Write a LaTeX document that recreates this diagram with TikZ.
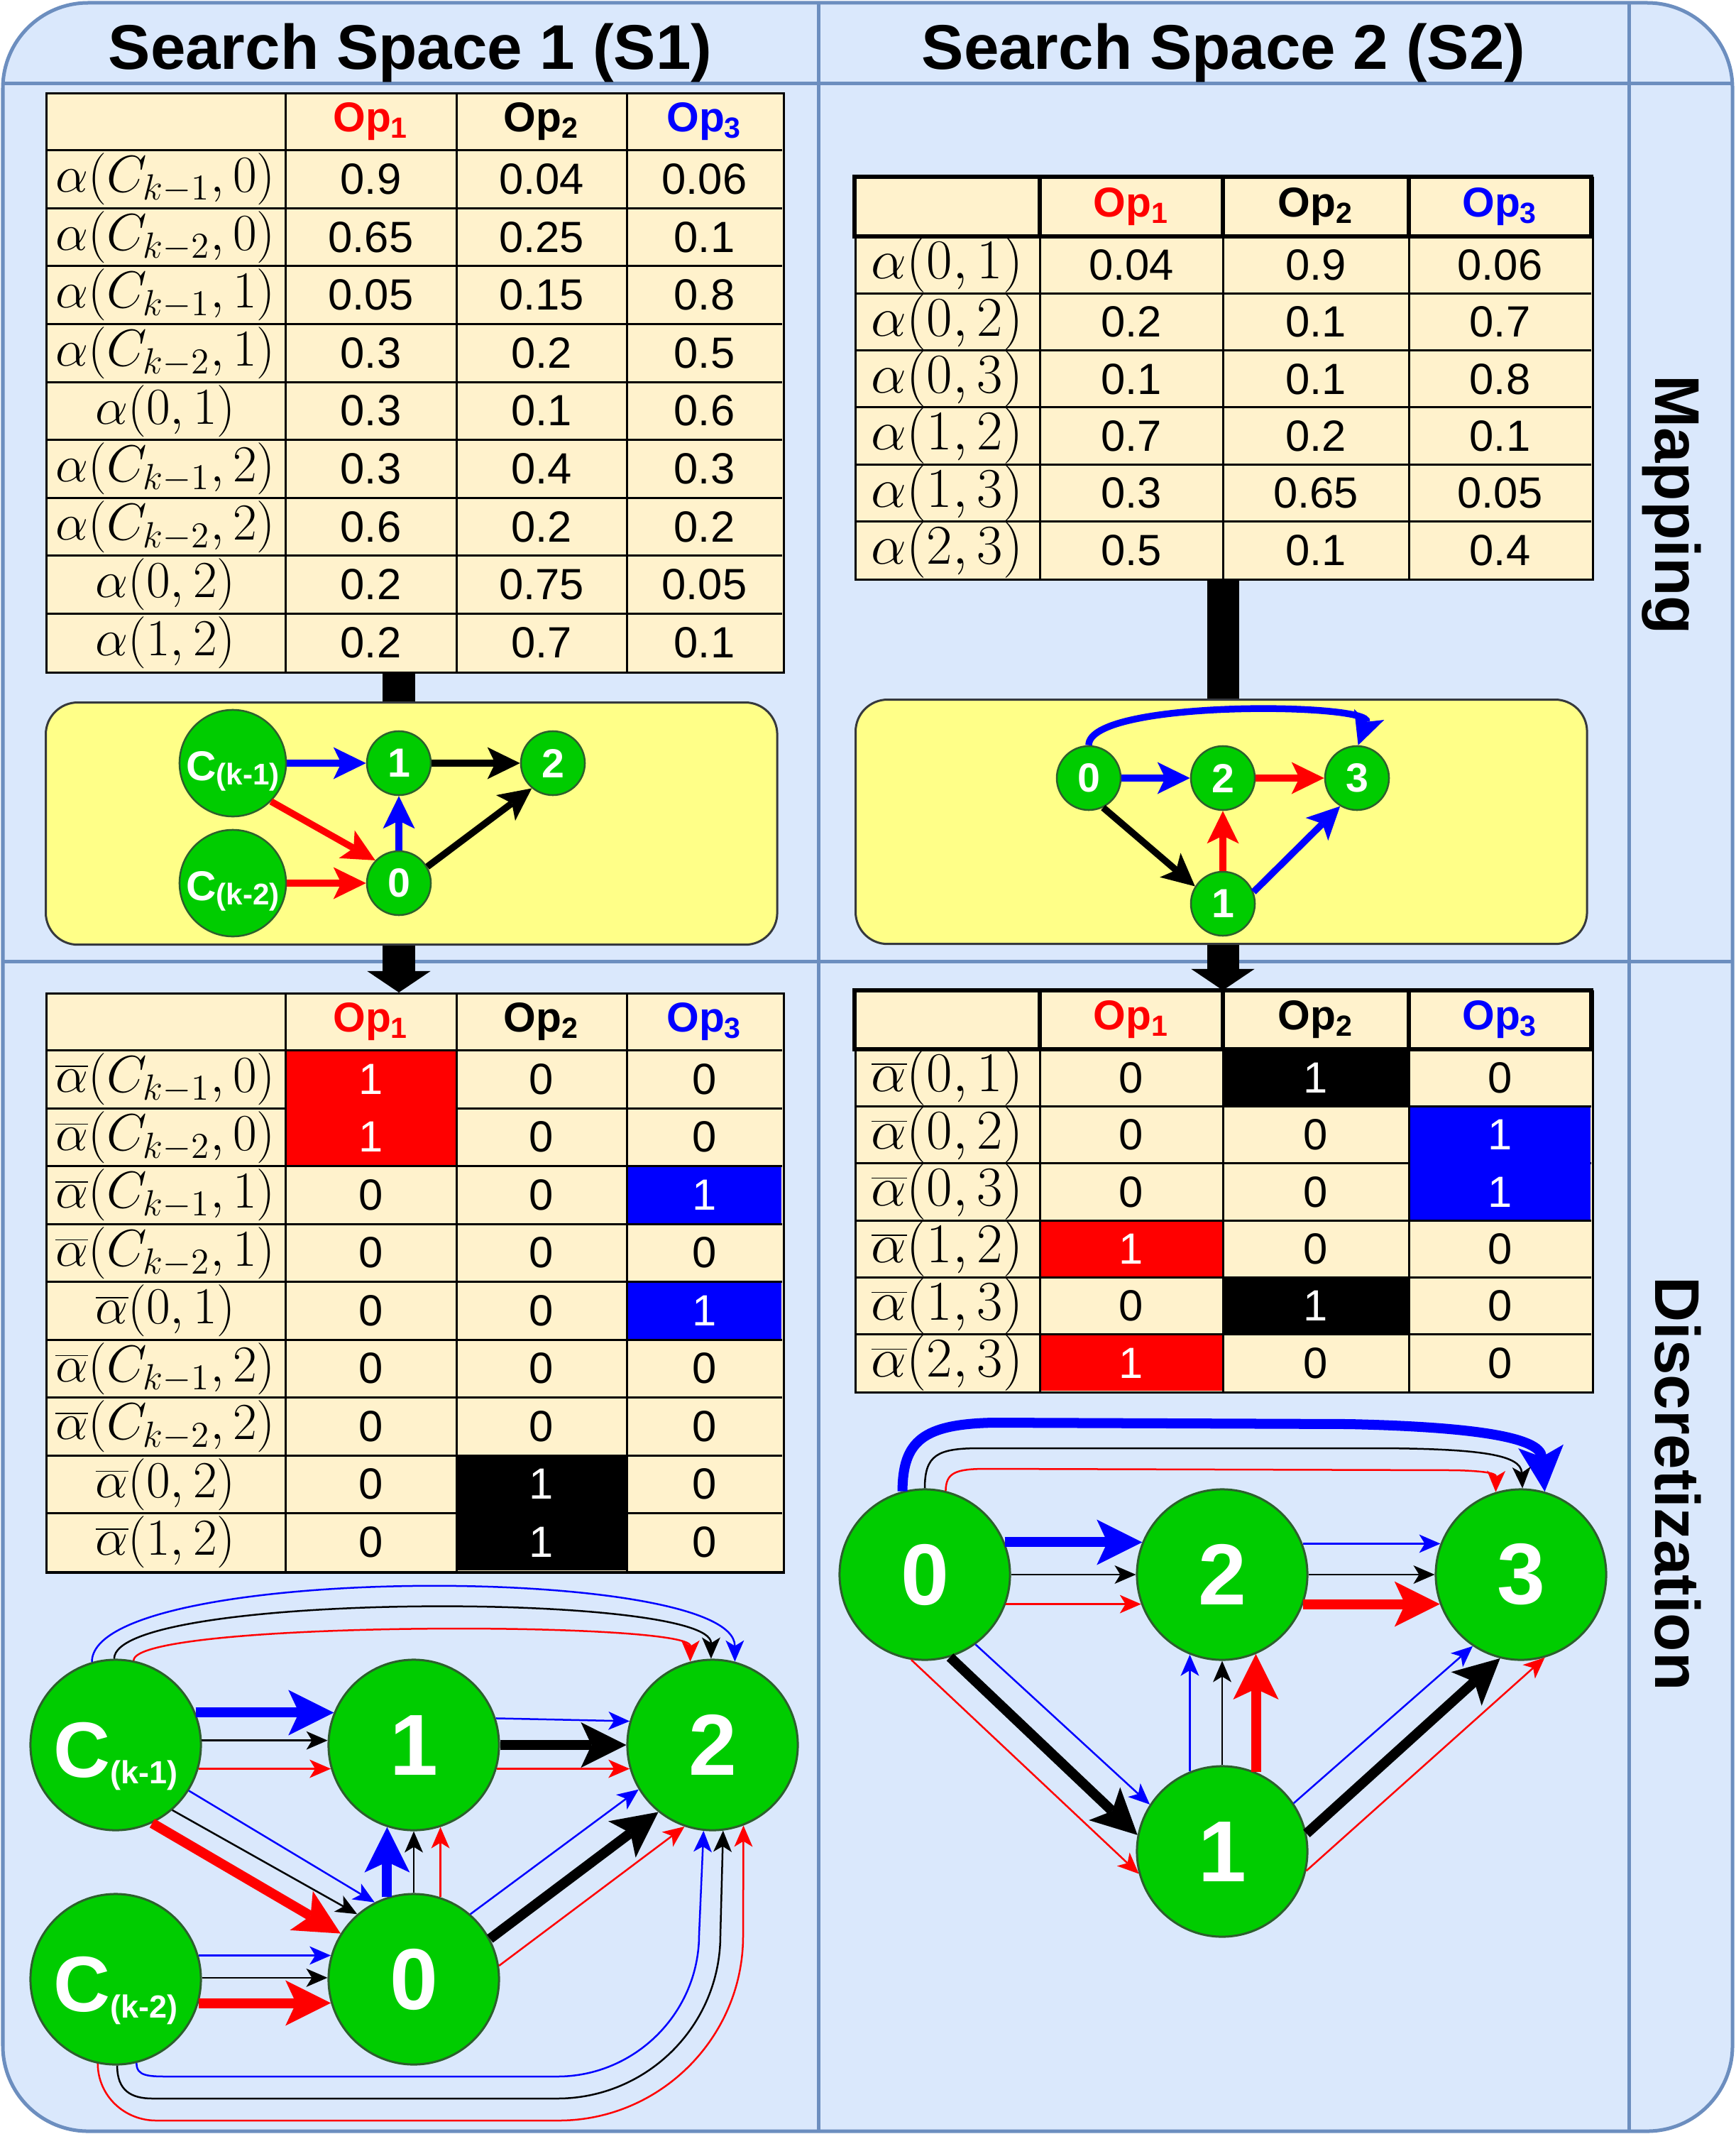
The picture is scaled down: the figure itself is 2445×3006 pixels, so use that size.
\RequirePackage{fix-cm}
\documentclass[tikz,border=0pt]{standalone}
\usepackage[no-math]{fontspec}
\setmainfont{Liberation Sans}
\usetikzlibrary{arrows.meta}
\pgfdeclarelayer{back}
\pgfdeclarelayer{mid}
\pgfsetlayers{back,mid,main}
\definecolor{frameF}{HTML}{DAE8FC}
\definecolor{frameD}{HTML}{6C8EBF}
\definecolor{tabF}{HTML}{FFF2CC}
\definecolor{yelF}{HTML}{FFFF88}
\definecolor{yelD}{HTML}{36393D}
\definecolor{nodeF}{HTML}{00CC00}
\definecolor{nodeD}{HTML}{2D5F2D}
\definecolor{opR}{HTML}{FF0000}
\definecolor{opB}{HTML}{0000FF}
\newcommand{\fsz}[1]{\fontsize{#1}{#1}\selectfont}
\newcommand{\wone}{\textcolor{white}{1}}
\tikzset{
  frameline/.style={draw=frameD, line width=0.05cm},
  tabbox/.style={rectangle, draw=black, fill=tabF, line width=0.03cm, inner sep=0pt, anchor=north west},
  tabline/.style={draw=black, line width=0.03cm},
  tabhead/.style={draw=black, line width=0.06cm},
  numT/.style={font=\fsz{17.5}, inner sep=0pt},
  opT/.style={font=\bfseries\fsz{16.7}, inner sep=0pt},
  mathA/.style={font=\fsz{20.8}, inner sep=0pt},
  mathB/.style={font=\fsz{22.5}, inner sep=0pt},
  titleT/.style={font=\bfseries\fsz{25.3}, inner sep=0pt, anchor=base},
  sideT/.style={font=\bfseries\fsz{25.3}, inner sep=0pt, anchor=base, rotate=-90},
  ybox/.style={rectangle, rounded corners=0.45cm, draw=yelD, fill=yelF, line width=0.03cm, inner sep=0pt, anchor=north west},
  bigN/.style={circle, fill=nodeF, draw=nodeD, line width=0.03cm, minimum size=2.4cm, inner sep=0pt, text=white, font=\bfseries\fsz{34.7}},
  smN/.style={circle, fill=nodeF, draw=nodeD, line width=0.025cm, minimum size=0.9cm, inner sep=0pt, text=white, font=\bfseries\fsz{16.3}},
  smC/.style={smN, minimum size=1.5cm},
  eThin/.style={line width=0.025cm, -{Stealth[length=0.3cm,width=0.26cm,inset=0.08cm,line width=0pt]}},
  eThick/.style={line width=0.14cm, -{Stealth[length=0.64cm,width=0.64cm,inset=0.15cm,line width=0pt]}},
  eSmall/.style={line width=0.095cm, -{Stealth[length=0.46cm,width=0.45cm,inset=0.11cm,line width=0pt]}},
  bigArrow/.style={line width=0.45cm, -{Triangle[length=0.3cm,width=0.89cm,line width=0pt]}},
}
\begin{document}
\begin{tikzpicture}[x=0.01cm,y=-0.01cm]
\useasboundingbox (0,0) rectangle (2445,3006);
\begin{pgfonlayer}{back}
\draw[frameline, fill=frameF, rounded corners=1.2cm] (4,4) rectangle (2441,3002);
\draw[frameline] (4,118) -- (2441,118);
\draw[frameline] (4,1354) -- (2441,1354);
\draw[frameline] (1153,4) -- (1153,3002);
\draw[frameline] (2295,4) -- (2295,3002);
\end{pgfonlayer}

% titles
\node[titleT] (ttl1) at (578,98) {Search Space 1 (S1)};
\node[titleT] (ttl2) at (1724,98) {Search Space 2 (S2)};
\node[sideT] (side1) at (2332,711) {Mapping};
\node[sideT] (side2) at (2332,2090) {Discretization};

% ---------- Table 1 ----------
\node[tabbox, minimum width=10.38cm, minimum height=8.16cm] (T1) at (64,130) {};
\foreach \i in {1,...,9} \draw[tabline] (64,{130+81.6*\i}) -- (1102,{130+81.6*\i});
\foreach \x in {402,643,883} \draw[tabline] (\x,130) -- (\x,946);
\node[opT, text=opR] (T1h1) at (522.5,170.8) {Op\textsubscript{1}};
\node[opT] (T1h2) at (763,170.8) {Op\textsubscript{2}};
\node[opT, text=opB] (T1h3) at (992.5,170.8) {Op\textsubscript{3}};
\foreach \lab/\a/\b/\c [count=\k] in {
 {$\alpha(C_{k-1},0)$}/0.9/0.04/0.06,
 {$\alpha(C_{k-2},0)$}/0.65/0.25/0.1,
 {$\alpha(C_{k-1},1)$}/0.05/0.15/0.8,
 {$\alpha(C_{k-2},1)$}/0.3/0.2/0.5,
 {$\alpha(0,1)$}/0.3/0.1/0.6,
 {$\alpha(C_{k-1},2)$}/0.3/0.4/0.3,
 {$\alpha(C_{k-2},2)$}/0.6/0.2/0.2,
 {$\alpha(0,2)$}/0.2/0.75/0.05,
 {$\alpha(1,2)$}/0.2/0.7/0.1}{
  \pgfmathsetmacro\yy{130+81.6*(\k+0.5)}
  \node[mathA] (T1l\k) at (233,\yy) {\lab};
  \node[numT] (T1a\k) at (522.5,\yy) {\a};
  \node[numT] (T1b\k) at (763,\yy) {\b};
  \node[numT] (T1c\k) at (992.5,\yy) {\c};
}

% ---------- Table 2 ----------
\node[tabbox, minimum width=10.38cm, minimum height=5.66cm] (T2) at (1204,249) {};
\foreach \i in {1,...,5} \draw[tabline] (1204,{333+80.33*\i}) -- (2242,{333+80.33*\i});
\foreach \x in {1465,1723,1985} \draw[tabline] (\x,333) -- (\x,815);
\draw[tabhead] (1204,249) rectangle (2242,333);
\foreach \x in {1465,1723,1985} \draw[tabhead] (\x,249) -- (\x,333);
\node[opT, text=opR] (T2h1) at (1594,291) {Op\textsubscript{1}};
\node[opT] (T2h2) at (1854,291) {Op\textsubscript{2}};
\node[opT, text=opB] (T2h3) at (2113.5,291) {Op\textsubscript{3}};
\foreach \lab/\a/\b/\c [count=\k] in {
 {$\alpha(0,1)$}/0.04/0.9/0.06,
 {$\alpha(0,2)$}/0.2/0.1/0.7,
 {$\alpha(0,3)$}/0.1/0.1/0.8,
 {$\alpha(1,2)$}/0.7/0.2/0.1,
 {$\alpha(1,3)$}/0.3/0.65/0.05,
 {$\alpha(2,3)$}/0.5/0.1/0.4}{
  \pgfmathsetmacro\yy{333+80.33*(\k-0.5)}
  \node[mathB] (T2l\k) at (1334.5,\yy) {\lab};
  \node[numT] (T2a\k) at (1594,\yy) {\a};
  \node[numT] (T2b\k) at (1854,\yy) {\b};
  \node[numT] (T2c\k) at (2113.5,\yy) {\c};
}

% ---------- Table 3 ----------
\node[tabbox, minimum width=10.38cm, minimum height=8.15cm] (T3) at (64,1398) {};
\foreach \i in {1,...,9} \draw[tabline] (64,{1398+81.5*\i}) -- (1102,{1398+81.5*\i});
\foreach \x in {402,643,883} \draw[tabline] (\x,1398) -- (\x,2213);
\fill[opR] (403.5,1481) rectangle (641.5,1641);
\fill[opB] (884.5,1644) rectangle (1100.5,1722.5);
\fill[opB] (884.5,1807) rectangle (1100.5,1885.5);
\fill[black] (644.5,2051.5) rectangle (881.5,2211.5);
\node[opT, text=opR] (T3h1) at (522.5,1438.8) {Op\textsubscript{1}};
\node[opT] (T3h2) at (763,1438.8) {Op\textsubscript{2}};
\node[opT, text=opB] (T3h3) at (992.5,1438.8) {Op\textsubscript{3}};
\foreach \lab/\a/\b/\c [count=\k] in {
 {$\overline{\alpha}(C_{k-1},0)$}/\wone/0/0,
 {$\overline{\alpha}(C_{k-2},0)$}/\wone/0/0,
 {$\overline{\alpha}(C_{k-1},1)$}/0/0/\wone,
 {$\overline{\alpha}(C_{k-2},1)$}/0/0/0,
 {$\overline{\alpha}(0,1)$}/0/0/\wone,
 {$\overline{\alpha}(C_{k-1},2)$}/0/0/0,
 {$\overline{\alpha}(C_{k-2},2)$}/0/0/0,
 {$\overline{\alpha}(0,2)$}/0/\wone/0,
 {$\overline{\alpha}(1,2)$}/0/\wone/0}{
  \pgfmathsetmacro\yy{1398+81.5*(\k+0.5)}
  \node[mathA] (T3l\k) at (233,\yy) {\lab};
  \node[numT] (T3a\k) at (522.5,\yy) {\a};
  \node[numT] (T3b\k) at (763,\yy) {\b};
  \node[numT] (T3c\k) at (992.5,\yy) {\c};
}

% ---------- Table 4 ----------
\node[tabbox, minimum width=10.38cm, minimum height=5.65cm] (T4) at (1204,1395) {};
\foreach \i in {1,...,5} \draw[tabline] (1204,{1478+80.33*\i}) -- (2242,{1478+80.33*\i});
\foreach \x in {1465,1723,1985} \draw[tabline] (\x,1478) -- (\x,1960);
\fill[black] (1724.5,1481) rectangle (1983.5,1556.8);
\fill[opB] (1986.5,1559.8) rectangle (2240.5,1717.5);
\fill[opR] (1466.5,1720.5) rectangle (1721.5,1797.8);
\fill[black] (1724.5,1800.8) rectangle (1983.5,1878.2);
\fill[opR] (1466.5,1881.2) rectangle (1721.5,1958.5);
\draw[tabhead] (1204,1395) rectangle (2242,1478);
\foreach \x in {1465,1723,1985} \draw[tabhead] (\x,1395) -- (\x,1478);
\node[opT, text=opR] (T4h1) at (1594,1436.5) {Op\textsubscript{1}};
\node[opT] (T4h2) at (1854,1436.5) {Op\textsubscript{2}};
\node[opT, text=opB] (T4h3) at (2113.5,1436.5) {Op\textsubscript{3}};
\foreach \lab/\a/\b/\c [count=\k] in {
 {$\overline{\alpha}(0,1)$}/0/\wone/0,
 {$\overline{\alpha}(0,2)$}/0/0/\wone,
 {$\overline{\alpha}(0,3)$}/0/0/\wone,
 {$\overline{\alpha}(1,2)$}/\wone/0/0,
 {$\overline{\alpha}(1,3)$}/0/\wone/0,
 {$\overline{\alpha}(2,3)$}/\wone/0/0}{
  \pgfmathsetmacro\yy{1478+80.33*(\k-0.5)}
  \node[mathB] (T4l\k) at (1334.5,\yy) {\lab};
  \node[numT] (T4a\k) at (1594,\yy) {\a};
  \node[numT] (T4b\k) at (1854,\yy) {\b};
  \node[numT] (T4c\k) at (2113.5,\yy) {\c};
}

% ---------- yellow boxes ----------
\node[ybox, minimum width=10.3cm, minimum height=3.41cm] (Y1) at (63,988) {};
\node[ybox, minimum width=10.3cm, minimum height=3.44cm] (Y2) at (1204,984) {};

% small graph S1
\node[smC] (sC1) at (328,1075) {\raisebox{-7.1pt}[0pt][0pt]{\fsz{16.7}C\raisebox{-1.7pt}{\fsz{12}(k-1)}}};
\node[smC] (sC2) at (328,1244) {\raisebox{-7.1pt}[0pt][0pt]{\fsz{16.7}C\raisebox{-1.7pt}{\fsz{12}(k-2)}}};
\node[smN] (s1) at (562,1075) {1};
\node[smN] (s0) at (562,1244) {0};
\node[smN] (s2) at (779,1075) {2};
\draw[eSmall, opB] (sC1.0) -- (s1.180);
\draw[eSmall] (s1.0) -- (s2.180);
\draw[eSmall, opR] (sC1.-45) -- (s0.136);
\draw[eSmall, opR] (sC2.0) -- (s0.180);
\draw[eSmall, opB] (s0.90) -- (s1.-90);
\draw[eSmall] (s0.30) -- (s2.-130);

% small graph S2
\node[smN] (t0) at (1534,1096) {0};
\node[smN] (t2) at (1723,1096) {2};
\node[smN] (t3) at (1912,1096) {3};
\node[smN] (t1) at (1723,1273) {1};
\draw[eSmall, opB] (t0.0) -- (t2.180);
\draw[eSmall, opR] (t2.0) -- (t3.180);
\draw[eSmall, opB] (t0.90) .. controls (1534,985) and (1935,990) .. (t3.88);
\draw[eSmall] (t0.-64) -- (t1.148);
\draw[eSmall, opR] (t1.90) -- (t2.-90);
\draw[eSmall, opB] (t1.21) -- (t3.-121);

% ---------- big graph S1 ----------
\node[bigN] (C1) at (163,2458) {\raisebox{-12.8pt}[0pt][0pt]{\fsz{31.5}C\raisebox{-2.6pt}{\fsz{12.8}(k-1)}}};
\node[bigN] (C2) at (163,2788) {\raisebox{-12.8pt}[0pt][0pt]{\fsz{31.5}C\raisebox{-2.6pt}{\fsz{12.8}(k-2)}}};
\node[bigN] (n1) at (583,2458) {1};
\node[bigN] (n0) at (583,2788) {0};
\node[bigN] (n2) at (1004,2458) {2};
\draw[eThick, opB] (C1.22) -- (n1.158);
\draw[eThin] (C1.3) -- (n1.177);
\draw[eThin, opR] (C1.-16) -- (n1.-164);
\draw[eThin, opB] (n1.18) -- (n2.164);
\draw[eThick] (n1.0) -- (n2.180);
\draw[eThin, opR] (n1.-16) -- (n2.-164);
\draw[eThick, opR] (C1.-65) -- (n0.148);
\draw[eThin] (C1.-49) -- (n0.131);
\draw[eThin, opB] (C1.-32) -- (n0.117);
\draw[eThin, opB] (C2.16) -- (n0.164);
\draw[eThin] (C2.1) -- (n0.179);
\draw[eThick, opR] (C2.-16) -- (n0.-164);
\draw[eThick, opB] (n0.108) -- (n1.-108);
\draw[eThin] (n0.90) -- (n1.-90);
\draw[eThin, opR] (n0.72) -- (n1.-72);
\draw[eThin, opB] (n0.49) -- (n2.-149);
\draw[eThick] (n0.28) -- (n2.-129);
\draw[eThin, opR] (n0.9) -- (n2.-109);
\draw[eThin, opB] (C1.106) .. controls (129,2202) and (1035,2202) .. (n2.75);
\draw[eThin] (C1.91) .. controls (161,2242) and (1002,2242) .. (n2.91);
\draw[eThin, opR] (C1.78) .. controls (188,2283) and (973,2283) .. (n2.105);
\draw[eThin, opB] (C2.-76) .. controls (192,2925) and (210,2925) .. (240,2925) -- (785,2925) .. controls (895,2925) and (985,2835) .. (985,2725) -- (n2.-96);
\draw[eThin] (C2.-89) .. controls (165,2945) and (185,2956) .. (215,2956) -- (785,2956) .. controls (912,2956) and (1015,2853) .. (1015,2726) -- (n2.-83);
\draw[eThin, opR] (C2.-102) .. controls (138,2952) and (175,2987) .. (220,2987) -- (787,2987) .. controls (930,2987) and (1047,2870) .. (1047,2727) -- (n2.-69);

% ---------- big graph S2 ----------
\node[bigN] (m0) at (1303,2218) {0};
\node[bigN] (m2) at (1722,2218) {2};
\node[bigN] (m3) at (2143,2218) {3};
\node[bigN] (m1) at (1722,2608) {1};
\draw[eThick, opB] (m0.22) -- (m2.158);
\draw[eThin] (m0.0) -- (m2.180);
\draw[eThin, opR] (m0.-20) -- (m2.-160);
\draw[eThin, opB] (m2.21) -- (m3.159);
\draw[eThin] (m2.0) -- (m3.180);
\draw[eThick, opR] (m2.-20) -- (m3.-160);
\draw[eThick, opB] (m0.105) .. controls (1272,2030) and (1300,2006) .. (1400,2004) -- (1900,2006) .. controls (2080,2010) and (2170,2025) .. (m3.74);
\draw[eThin] (m0.90) .. controls (1303,2050) and (1320,2040) .. (1380,2040) -- (1950,2040) .. controls (2090,2041) and (2143,2050) .. (m3.89);
\draw[eThin, opR] (m0.76) .. controls (1333,2075) and (1345,2069) .. (1390,2069) -- (2050,2071) .. controls (2090,2072) and (2108,2075) .. (m3.107);
\draw[eThick] (m0.-73) -- (m1.169);
\draw[eThin, opB] (m0.-54) -- (m1.147);
\draw[eThin, opR] (m0.-99) -- (m1.-165);
\draw[eThin, opB] (m1.112) -- (m2.-112);
\draw[eThin] (m1.90) -- (m2.-90);
\draw[eThick, opR] (m1.67) -- (m2.-67);
\draw[eThin, opB] (m1.34) -- (m3.-124);
\draw[eThick] (m1.12) -- (m3.-104);
\draw[eThin, opR] (m1.-13) -- (m3.-74);

% ---------- big black arrows (behind boxes) ----------
\begin{pgfonlayer}{mid}
\draw[bigArrow] (T1.south -| s1) -- (T3.north -| s1);
\draw[bigArrow] (T2.south -| t2) -- (T4.north -| t2);
\end{pgfonlayer}
\end{tikzpicture}
\end{document}
